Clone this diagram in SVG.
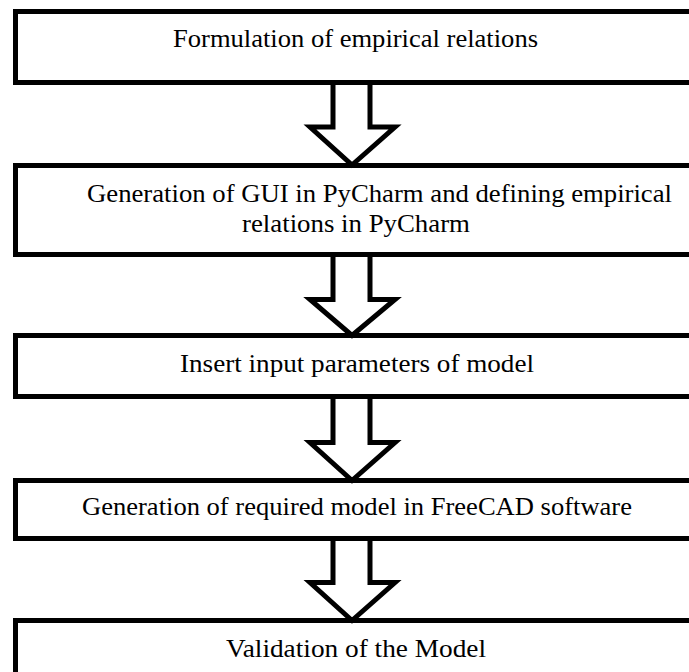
<svg xmlns="http://www.w3.org/2000/svg" width="689" height="672" viewBox="0 0 689 672">
<style>
.box{fill:#fff;stroke:#000;stroke-width:5}
.arr{fill:none;stroke:#000;stroke-width:5;stroke-linejoin:miter}
.t{font-family:"Liberation Serif","Times New Roman",serif;font-size:25px;fill:#000;text-anchor:start}
</style>
<rect width="689" height="672" fill="#fff"/>
<g id="n1"><rect class="box" x="15.5" y="11.5" width="700" height="71"/>
<text class="t" x="173" y="47" textLength="365" lengthAdjust="spacingAndGlyphs">Formulation of empirical relations</text></g>
<g id="n2"><rect class="box" x="15.5" y="165.5" width="700" height="89"/>
<text class="t" x="87" y="201.5" textLength="585" lengthAdjust="spacingAndGlyphs">Generation of GUI in PyCharm and defining empirical</text>
<text class="t" x="242" y="231.5" textLength="228" lengthAdjust="spacingAndGlyphs">relations in PyCharm</text></g>
<g id="n3"><rect class="box" x="15.5" y="335.5" width="700" height="61"/>
<text class="t" x="180" y="371.5" textLength="354" lengthAdjust="spacingAndGlyphs">Insert input parameters of model</text></g>
<g id="n4"><rect class="box" x="15.5" y="480.5" width="700" height="58"/>
<text class="t" x="82" y="515" textLength="550" lengthAdjust="spacingAndGlyphs">Generation of required model in FreeCAD software</text></g>
<g id="n5"><rect class="box" x="15.5" y="620.5" width="700" height="80"/>
<text class="t" x="226" y="656.5" textLength="260" lengthAdjust="spacingAndGlyphs">Validation of the Model</text></g>
<g id="connectors">
<polyline class="arr" points="333,85 333,127 310,127 352,165 395,127 370,127 370,85"/>
<polyline class="arr" points="333,257 333,299.5 310,299.5 352,335.5 395,299.5 370,299.5 370,257"/>
<polyline class="arr" points="333,399 333,442.5 310,442.5 352,480.5 395,442.5 370,442.5 370,399"/>
<polyline class="arr" points="333,541 333,582.5 310,582.5 352,620.5 395,582.5 370,582.5 370,541"/>
</g>
</svg>
